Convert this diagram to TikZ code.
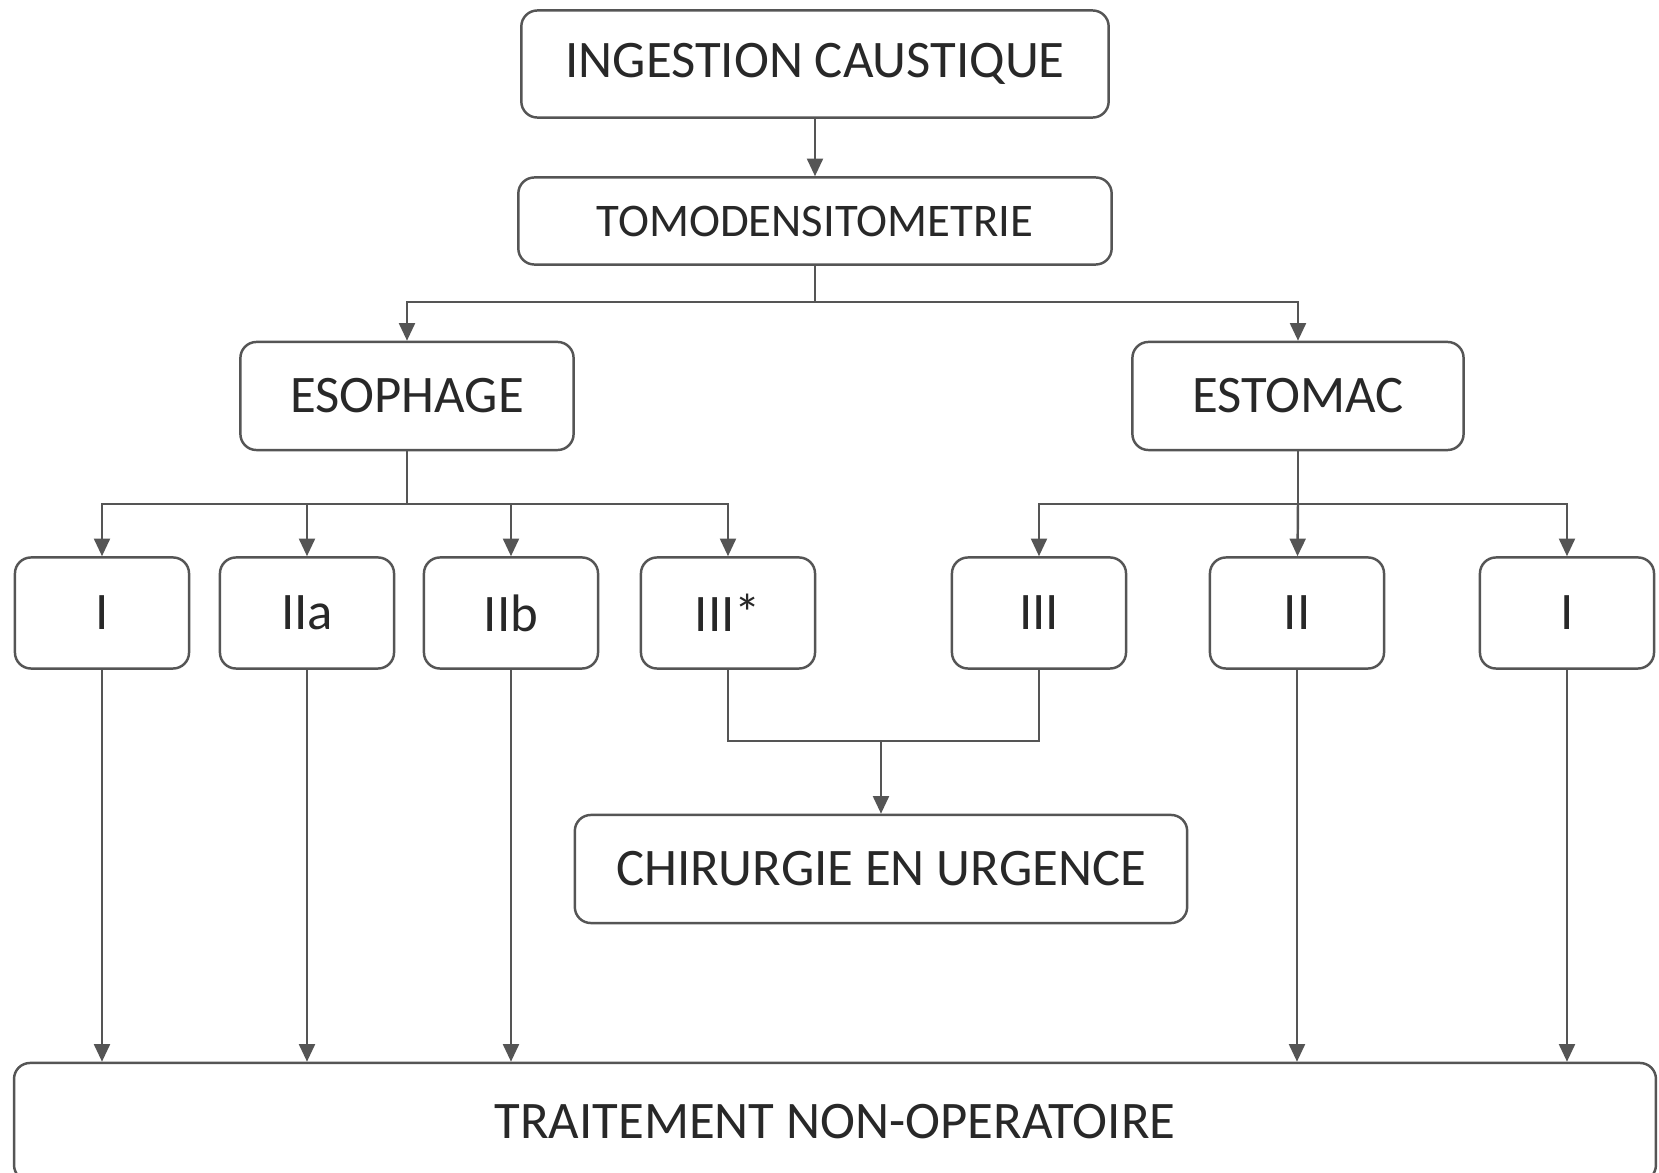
\documentclass[tikz,border=0pt]{standalone}
\usepackage{fontspec}
\setmainfont{Carlito}
\usetikzlibrary{arrows.meta}
\definecolor{linegray}{RGB}{85,85,85}
\definecolor{textgray}{RGB}{40,40,40}

\begin{document}
\begin{tikzpicture}[x=0.01cm,y=-0.01cm,>={Triangle[length=5pt,width=4.5pt]},
    box/.style={draw=linegray, line width=0.7pt, rounded corners=0.16cm, inner sep=0pt, text=textgray, fontsize=15pt},
    grade/.style={box, minimum width=1.74cm, minimum height=1.11cm},
    fontsize/.style={font=\fontsize{#1}{#1}\selectfont}]
    \useasboundingbox (0,0) rectangle (1659,1173);
    \clip (0,0) rectangle (1659,1173);
    \fill[white] (0,0) rectangle (1659,1173);
    \node[box, minimum width=5.87cm, minimum height=1.07cm] (IC) at (815,64) {INGESTION CAUSTIQUE};
    \node[box, minimum width=5.93cm, minimum height=0.87cm, fontsize=13.3pt] (TDM) at (815,221) {TOMODENSITOMETRIE};
    \node[box, minimum width=3.33cm, minimum height=1.08cm] (ESO) at (407,396) {ESOPHAGE};
    \node[box, minimum width=3.31cm, minimum height=1.08cm] (EST) at (1298,396) {ESTOMAC};
    \node[grade] (E1) at (102,613) {I};
    \node[grade] (E2a) at (307,613) {IIa};
    \node[grade] (E2b) at (511,613) {IIb};
    \node[grade] (E3) at (728,613) {III*};
    \node[grade] (S3) at (1039,613) {III};
    \node[grade] (S2) at (1297,613) {II};
    \node[grade] (S1) at (1567,613) {I};
    \node[box, minimum width=6.12cm, minimum height=1.08cm] (CHIR) at (881,869) {CHIRURGIE EN URGENCE};
    \node[box, minimum width=16.41cm, minimum height=1.18cm] (TNO) at (835,1122) {TRAITEMENT NON-OPERATOIRE};
    \coordinate (B1) at (815,302);
    \coordinate (B2) at (407,504);
    \coordinate (B3) at (1298,504);
    \coordinate (J) at (881,741);
    \begin{scope}[draw=linegray, line width=0.7pt]
        \draw[->] (IC) -- (TDM);
        \draw (TDM) -- (B1);
        \draw[->] (B1) -| (ESO);
        \draw[->] (B1) -| (EST);
        \draw (ESO) -- (B2);
        \draw[->] (B2) -| (E1);
        \draw[->] (B2) -| (E2a);
        \draw[->] (B2) -| (E2b);
        \draw[->] (B2) -| (E3);
        \draw (EST) -- (B3);
        \draw[->] (B3) -| (S3);
        \draw[->] (B3) -- (S2);
        \draw[->] (B3) -| (S1);
        \draw (E3) |- (J) -| (S3);
        \draw[->] (J) -- (CHIR);
        \draw[->] (E1) -- (E1 |- TNO.north);
        \draw[->] (E2a) -- (E2a |- TNO.north);
        \draw[->] (E2b) -- (E2b |- TNO.north);
        \draw[->] (S2) -- (S2 |- TNO.north);
        \draw[->] (S1) -- (S1 |- TNO.north);
    \end{scope}
\end{tikzpicture}
\end{document}
